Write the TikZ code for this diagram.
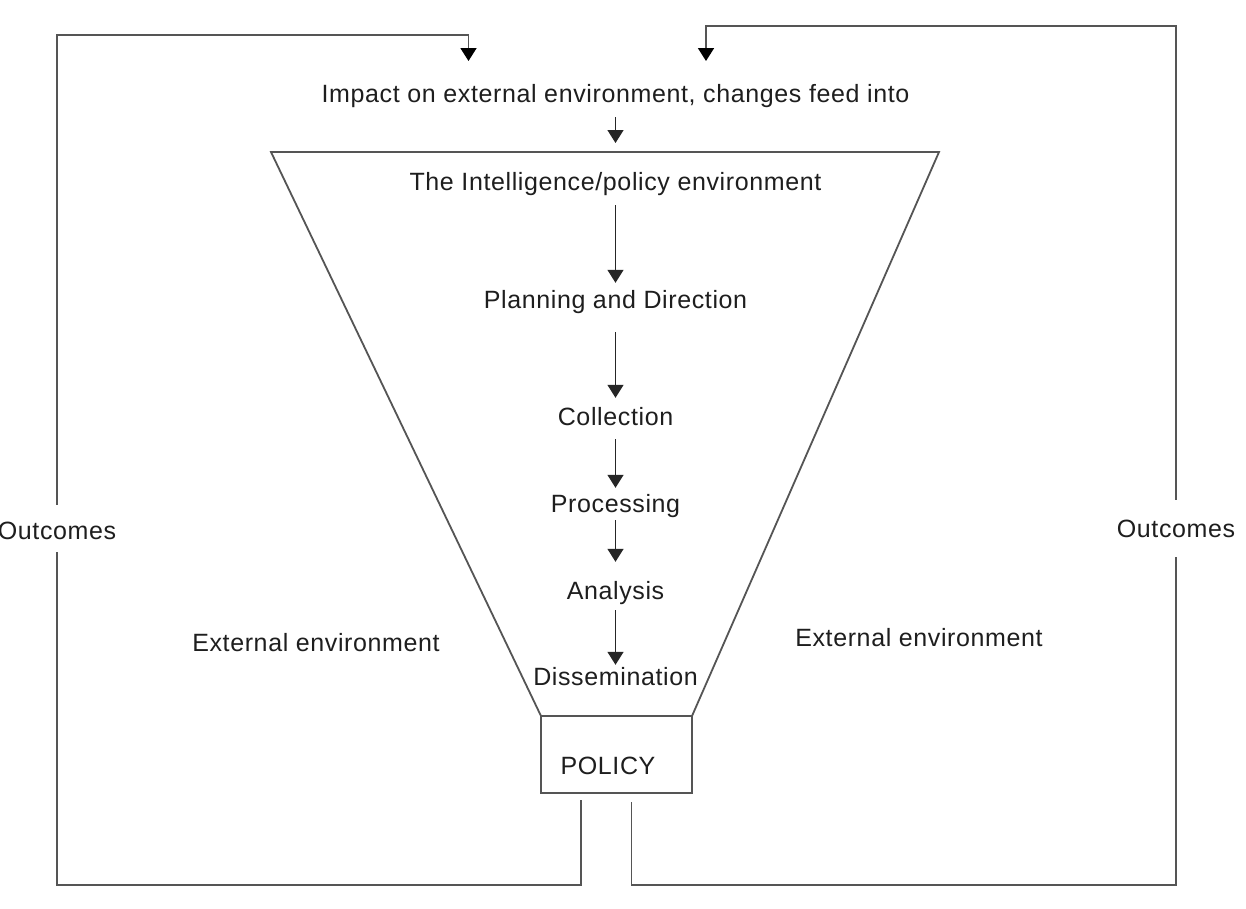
\documentclass[tikz,border=0pt]{standalone}
\usepackage{fontspec}
\setmainfont{Liberation Sans}[LetterSpace=2.5]
\usetikzlibrary{arrows.meta}
\definecolor{linegray}{HTML}{555555}
\definecolor{txt}{HTML}{1E1E1E}
\begin{document}
\begin{tikzpicture}[x=1pt,y=-1pt,
  lbl/.style={anchor=base,inner sep=0pt,text height=17pt,text depth=5pt,
    font=\fontsize{25}{28}\selectfont,text=txt},
  flow/.style={draw=black!85,line width=1.4pt,-{Triangle[width=16pt,length=13pt]}},
  loopline/.style={draw=linegray,line width=1.8pt},
  looparrow/.style={loopline,-{Triangle[width=16pt,length=13pt,fill=black,color=black]}},
  outline/.style={draw=linegray,line width=1.8pt}]
\useasboundingbox (0,0) rectangle (1246,908);
\fill[white] (0,0) rectangle (1246,908);

% funnel
\coordinate (ftl) at (271,152);
\coordinate (ftr) at (939,152);
\coordinate (fbl) at (541,716);
\coordinate (fbr) at (692,716);
\coordinate (ftop) at (615.5,152);
\draw[outline,line join=miter] (ftl) -- (ftr) -- (fbr) -- (fbl) -- cycle;

% policy box
\node[outline,minimum width=151pt,minimum height=77pt,inner sep=0pt] (pol) at (616.5,754.5) {};
\node[lbl] (poltxt) at (608,774) {POLICY};

% texts
\node[lbl] (impact) at (615.5,102) {Impact on external environment, changes feed into};
\node[lbl] (intel) at (615.5,190) {The Intelligence/policy environment};
\node[lbl] (plan) at (615.5,308) {Planning and Direction};
\node[lbl] (coll) at (615.5,425) {Collection};
\node[lbl] (proc) at (615.5,512) {Processing};
\node[lbl] (anal) at (615.5,599) {Analysis};
\node[lbl] (diss) at (615.5,685) {Dissemination};
\node[lbl] (extL) at (316,651) {External environment};
\node[lbl] (extR) at (919,646) {External environment};
\node[lbl] (outL) at (57,539) {Outcomes};
\node[lbl] (outR) at (1176,537) {Outcomes};

% flow arrows
\draw[flow,shorten <=10pt,shorten >=9pt] (impact.south) -- (ftop);
\draw[flow,shorten <=10pt,shorten >=8pt] (intel.south) -- (plan.north);
\draw[flow,shorten <=19pt,shorten >=10pt] (plan.south) -- (coll.north);
\draw[flow,shorten <=9pt,shorten >=7pt] (coll.south) -- (proc.north);
\draw[flow,shorten <=3pt,shorten >=20pt] (proc.south) -- (anal.north);
\draw[flow,shorten <=6pt,shorten >=3pt] (anal.south) -- (diss.north);

% feedback loops
\coordinate (lstart) at (581,800);
\coordinate (lbot) at (57,885);
\coordinate (ltop) at (57,35);
\coordinate (ltip) at (468.5,61);
\coordinate (rstart) at (631.5,802);
\coordinate (rbot) at (1176,885);
\coordinate (rtop) at (1176,26);
\coordinate (rtip) at (706,61);

\draw[loopline,shorten >=8pt] (lstart) |- (lbot) -- (outL.south);
\draw[looparrow,shorten <=17pt] (outL.north) -- (ltop) -| (ltip);
\draw[loopline,shorten >=15pt] (rstart) |- (rbot) -- (outR.south);
\draw[looparrow,shorten <=20pt] (outR.north) -- (rtop) -| (rtip);
\end{tikzpicture}
\end{document}
